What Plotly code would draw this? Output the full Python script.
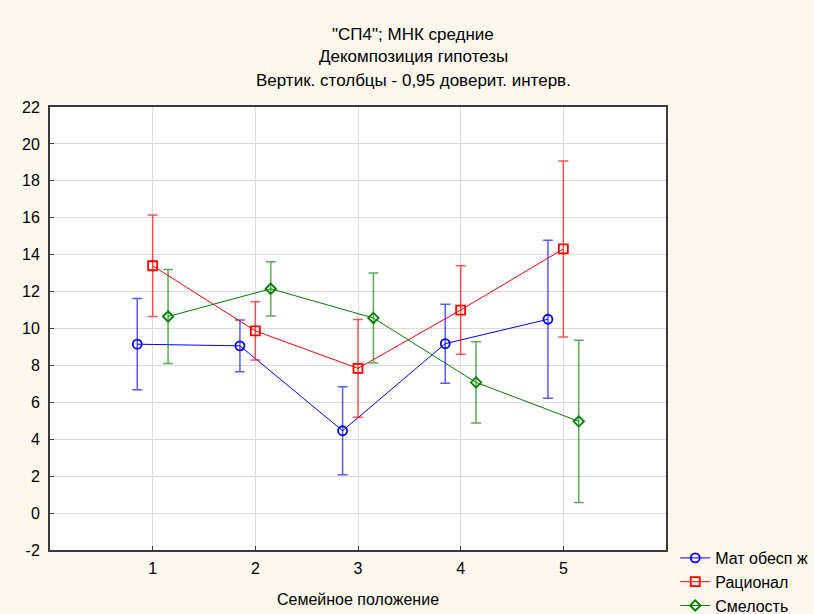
import plotly.graph_objects as go

categories = [1, 2, 3, 4, 5]
series_names = ["Мат обесп ж", "Рационал", "Смелость"]
blue_mean = [9.15, 9.06, 4.46, 9.18, 10.5]
blue_ci = [2.47, 1.40, 2.38, 2.14, 4.28]
red_mean = [13.4, 9.87, 7.84, 11.0, 14.31]
red_ci = [2.75, 1.58, 2.65, 2.40, 4.77]
green_mean = [10.65, 12.15, 10.57, 7.08, 4.97]
green_ci = [2.54, 1.47, 2.44, 2.20, 4.40]
offsets = [-0.15, 0.0, 0.15]
y_ticks = list(range(-2, 23, 2))
y_tick_text = [str(v) for v in y_ticks]

colors = ["#0000ff", "#ff0000", "#008000"]
err_colors = ["rgba(0,0,255,0.65)", "rgba(255,0,0,0.65)", "rgba(0,128,0,0.65)"]
symbols = ["circle-open", "square-open", "diamond-open"]
sizes = [9, 9, 8]

fig = go.Figure()
for i, (name, m, ci) in enumerate(zip(series_names, [blue_mean, red_mean, green_mean],
                                      [blue_ci, red_ci, green_ci])):
    fig.add_trace(go.Scatter(
        x=[c + offsets[i] for c in categories], y=m, name=name,
        mode="lines+markers",
        line=dict(color=colors[i], width=1),
        marker=dict(symbol=symbols[i], size=sizes[i], color=colors[i],
                    line=dict(width=1.8, color=colors[i])),
        error_y=dict(type="data", array=ci, visible=True, color=err_colors[i],
                     thickness=1.5, width=5),
    ))

titles = ['"СП4"; МНК средние', "Декомпозиция гипотезы", "Вертик. столбцы - 0,95 доверит. интерв."]
title_px = [35, 57, 80]
for t, py in zip(titles, title_px):
    fig.add_annotation(text=t, xref="paper", yref="paper",
                       x=(413 - 50) / 615.7, y=(550 - py) / 443,
                       showarrow=False, xanchor="center", yanchor="middle",
                       font=dict(size=17, color="#000000"))

fig.update_layout(
    width=814, height=614,
    margin=dict(l=50, r=148, t=107, b=64, autoexpand=False),
    paper_bgcolor="#fdf8ee",
    plot_bgcolor="#ffffff",
    font=dict(family="Liberation Sans, Arial, sans-serif", size=16, color="#000000"),
    showlegend=True,
    legend=dict(x=1.015, y=0.0203, xanchor="left", yanchor="top",
                bgcolor="rgba(0,0,0,0)", font=dict(size=16),
                tracegroupgap=0, itemwidth=30),
    xaxis=dict(range=[0, 6], tickvals=categories, ticktext=[str(c) for c in categories],
               showgrid=True, gridcolor="#dcdcdc", gridwidth=1,
               showline=True, linecolor="#3a3a3a", linewidth=2, mirror=True,
               ticks="inside", ticklen=4, tickcolor="#3a3a3a",
               zeroline=False, ticklabelstandoff=3,
               title=dict(text="Семейное положение", standoff=18, font=dict(size=16))),
    yaxis=dict(range=[-2, 22], tickvals=y_ticks, ticktext=y_tick_text,
               showgrid=True, gridcolor="#dcdcdc", gridwidth=1,
               showline=True, linecolor="#3a3a3a", linewidth=2, mirror=True,
               ticks="inside", ticklen=4, tickcolor="#3a3a3a",
               zeroline=False, ticklabelstandoff=5),
)

fig.write_html("out.html")
